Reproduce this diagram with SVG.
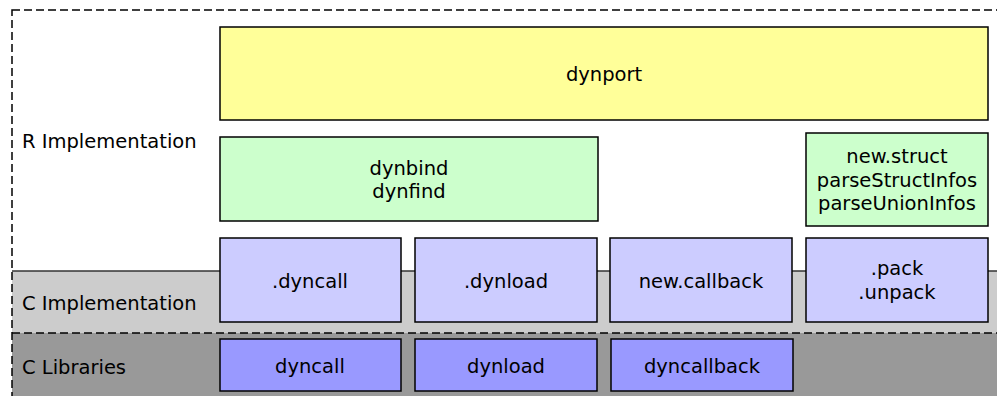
<svg xmlns="http://www.w3.org/2000/svg" width="997" height="396" viewBox="0 0 997 396">
<style>
text{font-family:"DejaVu Sans","Liberation Sans",sans-serif;font-size:19.5px;fill:#000}
.c{text-anchor:middle}
.box{stroke:#000;stroke-width:1.5}
.y{fill:#ffff99}.g{fill:#ccffcc}.lb{fill:#ccccff}.b{fill:#9999ff}
.dash{fill:none;stroke:#000;stroke-width:1.5;stroke-dasharray:8,4}
</style>
<rect width="997" height="396" fill="#fff"/>
<g id="layers">
<rect x="12" y="271" width="990" height="62" fill="#cccccc"/>
<rect x="12" y="333" width="990" height="70" fill="#999999"/>
<line x1="12" y1="271" x2="997" y2="271" stroke="#333" stroke-width="1.3"/>
<line class="dash" x1="12" y1="333" x2="997" y2="333"/>
<rect class="dash" x="12" y="10" width="995" height="400"/>
<text x="22" y="148">R Implementation</text>
<text x="22" y="310">C Implementation</text>
<text x="22" y="374">C Libraries</text>
</g>
<g id="connectors"></g>
<g id="dynport"><rect class="box y" x="220" y="27" width="768" height="93"/><text class="c" x="604" y="81">dynport</text></g>
<g id="dynbind"><rect class="box g" x="220" y="137" width="378" height="84"/><text class="c" x="409" y="175">dynbind</text><text class="c" x="409" y="198">dynfind</text></g>
<g id="newstruct"><rect class="box g" x="806" y="133" width="182" height="93"/><text class="c" x="897" y="163">new.struct</text><text class="c" x="897" y="186.5">parseStructInfos</text><text class="c" x="897" y="210">parseUnionInfos</text></g>
<g id="dotdyncall"><rect class="box lb" x="220" y="238" width="181" height="84"/><text class="c" x="310" y="288">.dyncall</text></g>
<g id="dotdynload"><rect class="box lb" x="415" y="238" width="182" height="84"/><text class="c" x="506" y="288">.dynload</text></g>
<g id="newcallback"><rect class="box lb" x="610" y="238" width="182" height="84"/><text class="c" x="701" y="288">new.callback</text></g>
<g id="pack"><rect class="box lb" x="806" y="238" width="182" height="84"/><text class="c" x="897" y="275">.pack</text><text class="c" x="897" y="299">.unpack</text></g>
<g id="dyncall"><rect class="box b" x="220" y="339" width="181" height="52"/><text class="c" x="310" y="373">dyncall</text></g>
<g id="dynload"><rect class="box b" x="415" y="339" width="182" height="52"/><text class="c" x="506" y="373">dynload</text></g>
<g id="dyncallback"><rect class="box b" x="611" y="339" width="182" height="52"/><text class="c" x="702" y="373">dyncallback</text></g>
</svg>
